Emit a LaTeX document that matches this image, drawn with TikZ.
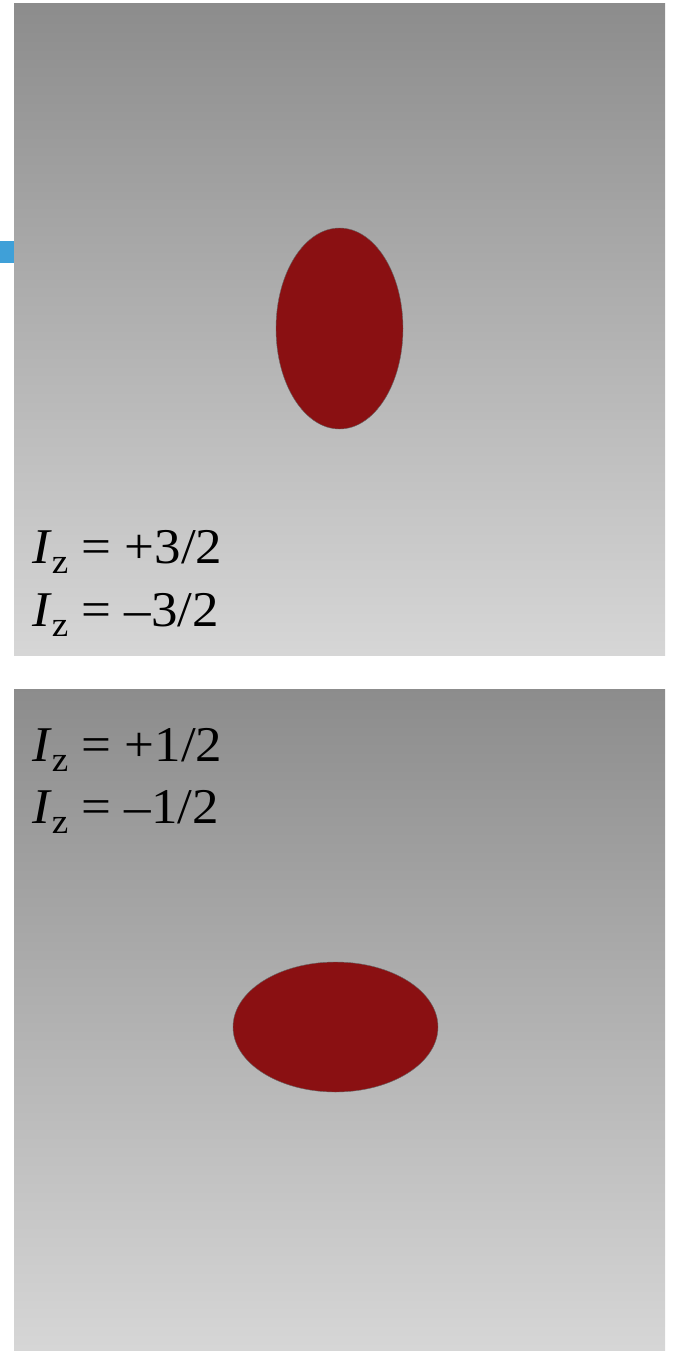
\documentclass[tikz,border=0pt]{standalone}
\usepackage{fontspec}
\setmainfont{Liberation Serif}
\usepackage{graphicx}
\usetikzlibrary{shapes.geometric,positioning}

\definecolor{blobred}{HTML}{8A1012}
\definecolor{tabblue}{HTML}{3FA0D8}
\newcommand{\spinfont}{\fontsize{50}{52}\selectfont}
\newcommand{\Iz}[1]{\scalebox{1.06}[1]{\textit{I}\raisebox{-10pt}{\fontsize{35}{35}\selectfont z} = #1}}

\begin{document}
\begin{tikzpicture}[
    x=1pt, y=-1pt,
    panel/.style={top color=black!45, bottom color=black!16, draw=none},
    blob/.style={ellipse, fill=blobred, draw=black!60, line width=0.4pt, inner sep=0pt},
    spin/.style={anchor=base west, font=\spinfont, inner sep=0pt},
]
    \useasboundingbox (0,0) rectangle (674,1351);

    % two panels and the little tab
    \shade[panel] (14,4) rectangle (665,655);
    \shade[panel] (14,689) rectangle (665,1351);
    \fill[tabblue] (0,241) rectangle (14,263);

    % upper panel: prolate shape, |Iz| = 3/2
    \node[blob, minimum width=127pt, minimum height=201pt] (prolate) at (339.5,328.5) {};
    \node[spin] (upA) at (32,563) {\Iz{+3/2}};
    \node[spin] (upB) at (32,626) {\Iz{–3/2}};

    % lower panel: oblate shape, |Iz| = 1/2
    \node[spin] (loA) at (32,761) {\Iz{+1/2}};
    \node[spin] (loB) at (32,823) {\Iz{–1/2}};
    \node[blob, minimum width=205pt, minimum height=130pt] (oblate) at (335.5,1027) {};
\end{tikzpicture}
\end{document}
